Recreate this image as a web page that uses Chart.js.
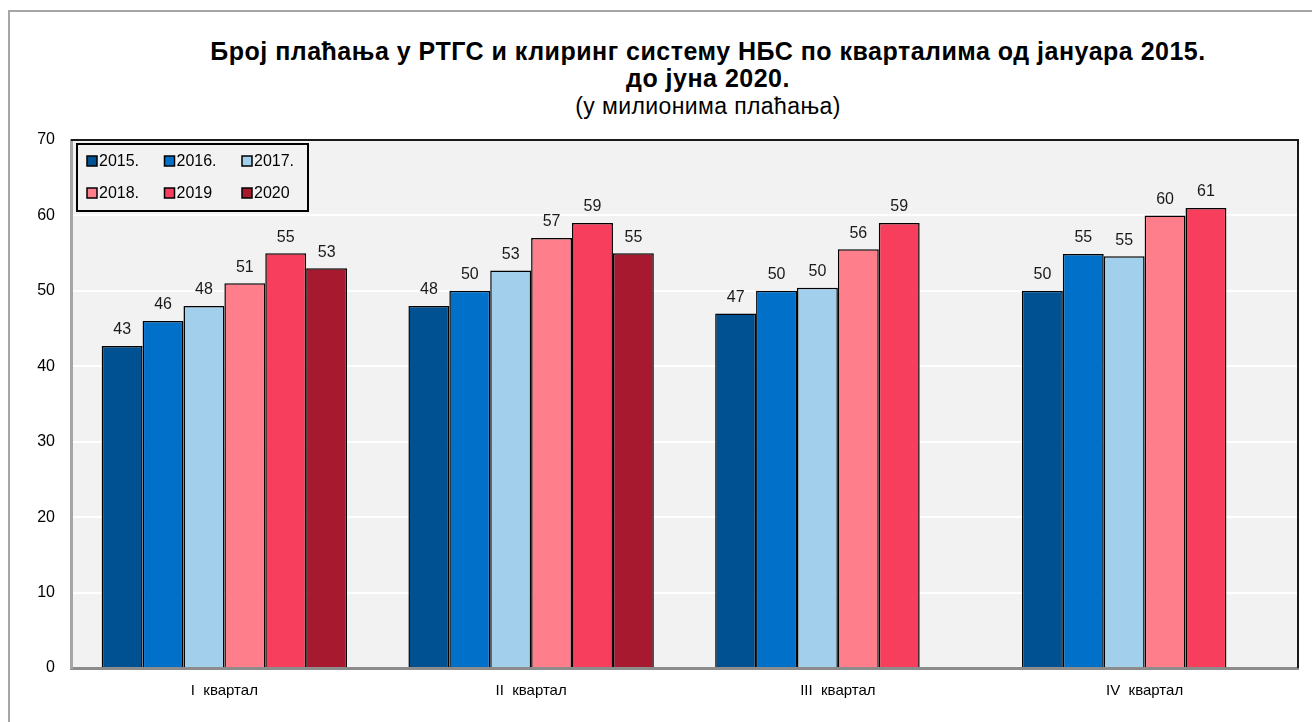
<!DOCTYPE html>
<html>
<head>
<meta charset="utf-8">
<script src="https://cdn.jsdelivr.net/npm/chart.js@4"></script>
<style>
  body { margin: 0; background: #fff; }
  #wrap { position: relative; width: 1312px; height: 722px; overflow: hidden; }
  #frame { position: absolute; left: 8px; top: 10px; width: 1400px; height: 800px; border-left: 2px solid #a6a6a6; border-top: 2px solid #a6a6a6; }
  #title { position: absolute; left: 108px; width: 1200px; top: 38px; text-align: center; font-family: "Liberation Sans", Arial, sans-serif; color: #000; }
  #title .main { font-weight: bold; font-size: 25px; line-height: 27px; letter-spacing: 0.5px; }
  #title .sub { font-size: 23px; line-height: 29px; letter-spacing: 0.4px; }
  canvas { position: absolute; left: 0; top: 0; }
</style>
</head>
<body>
<div id="wrap">
  <div id="frame"></div>
  <div id="title">
    <div class="main">Број плаћања у РТГС и клиринг систему НБС по кварталима од јануара 2015.<br>до јуна 2020.</div>
    <div class="sub">(у милионима плаћања)</div>
  </div>
  <canvas id="myChart" width="1312" height="722"></canvas>
</div>
<script>
const quarters = ['I  квартал', 'II  квартал', 'III  квартал', 'IV  квартал']
const years = ['2015.', '2016.', '2017.', '2018.', '2019', '2020']
const yearColors = ['#005191', '#0070c9', '#a2cfeb', '#ff7e8b', '#f73e5c', '#a6192f']
const v2015 = [42.7, 48, 47, 50]
const v2016 = [46, 50, 50, 54.9]
const v2017 = [48, 52.7, 50.4, 54.6]
const v2018 = [51, 57, 55.5, 60]
const v2019 = [55, 59, 59, 61]
const v2020 = [53, 55, null, null]
const yTicks = [0, 10, 20, 30, 40, 50, 60, 70]

const seriesValues = [v2015, v2016, v2017, v2018, v2019, v2020]
var dataSet = years.map((y, i) => {
    return {
        label: y,
        data: seriesValues[i],
        backgroundColor: yearColors[i],
        borderColor: '#000',
        borderWidth: 1.5,
        borderSkipped: 'bottom'
    }
})

const FONT = '"Liberation Sans", Arial, sans-serif'

// plot background and dark top/right border
const plotBg = {
    id: 'plotBg',
    beforeDraw(chart) {
        const {ctx, chartArea: a} = chart
        ctx.save()
        ctx.fillStyle = '#f2f2f2'
        ctx.fillRect(a.left, a.top, a.right - a.left, a.bottom - a.top)
        ctx.restore()
    },
    afterDatasetsDraw(chart) {
        const {ctx, chartArea: a} = chart
        ctx.save()
        ctx.strokeStyle = '#1a1a1a'
        ctx.lineWidth = 2
        ctx.beginPath()
        ctx.moveTo(a.left, a.top)
        ctx.lineTo(a.right, a.top)
        ctx.lineTo(a.right, a.bottom)
        ctx.stroke()
        ctx.restore()
    }
}

// value labels above bars
const valueLabels = {
    id: 'valueLabels',
    afterDatasetsDraw(chart) {
        const ctx = chart.ctx
        ctx.save()
        ctx.font = '16px ' + FONT
        ctx.fillStyle = '#1a1a1a'
        ctx.textAlign = 'center'
        ctx.textBaseline = 'bottom'
        chart.data.datasets.forEach((ds, i) => {
            chart.getDatasetMeta(i).data.forEach((bar, j) => {
                const v = ds.data[j]
                if (v === null || v === undefined) return
                ctx.fillText(Math.round(v), bar.x, bar.y - 8)
            })
        })
        ctx.restore()
    }
}

// boxed legend in the top left corner of the plot
const boxLegend = {
    id: 'boxLegend',
    afterDraw(chart) {
        const {ctx, chartArea: a} = chart
        const x0 = a.left + 6, y0 = a.top + 4, w = 231, h = 67
        ctx.save()
        ctx.fillStyle = '#f2f2f2'
        ctx.fillRect(x0, y0, w, h)
        ctx.strokeStyle = '#000'
        ctx.lineWidth = 2
        ctx.strokeRect(x0, y0, w, h)
        ctx.font = '16px ' + FONT
        ctx.textBaseline = 'middle'
        ctx.fillStyle = '#000'
        chart.data.datasets.forEach((ds, i) => {
            const col = i % 3, row = Math.floor(i / 3)
            const mx = x0 + 10 + col * 77.5
            const my = y0 + 17 + row * 32
            ctx.fillStyle = ds.backgroundColor
            ctx.fillRect(mx, my - 5, 10, 10)
            ctx.strokeStyle = '#000'
            ctx.lineWidth = 1.5
            ctx.strokeRect(mx, my - 5, 10, 10)
            ctx.fillStyle = '#000'
            ctx.fillText(ds.label, mx + 12, my + 1)
        })
        ctx.restore()
    }
}

const ctx = document.getElementById('myChart').getContext('2d')
const myChart = new Chart(ctx, {
    type: 'bar',
    data: {
        labels: quarters,
        datasets: dataSet
    },
    options: {
        responsive: false,
        animation: false,
        layout: { padding: { top: 140, right: 14, left: 0, bottom: 0 } },
        datasets: { bar: { barPercentage: 1, categoryPercentage: 0.8 } },
        scales: {
            x: {
                afterFit: (s) => { s.height = 54 },
                grid: { display: false, drawTicks: false },
                border: { display: true, color: '#8c8c8c', width: 3 },
                ticks: { color: '#000', padding: 14, font: { family: FONT, size: 15 } }
            },
            y: {
                min: 0,
                max: 70,
                afterFit: (s) => { s.width = 71 },
                afterBuildTicks: (s) => { s.ticks = yTicks.map(v => ({ value: v })) },
                grid: { color: '#ffffff', lineWidth: 2, drawTicks: false },
                border: { display: true, color: '#a6a6a6', width: 3 },
                ticks: { color: '#000', padding: 16, font: { family: FONT, size: 16 } }
            }
        },
        plugins: {
            legend: { display: false },
            title: { display: false },
            tooltip: { enabled: false }
        }
    },
    plugins: [plotBg, valueLabels, boxLegend]
})
</script>
</body>
</html>
